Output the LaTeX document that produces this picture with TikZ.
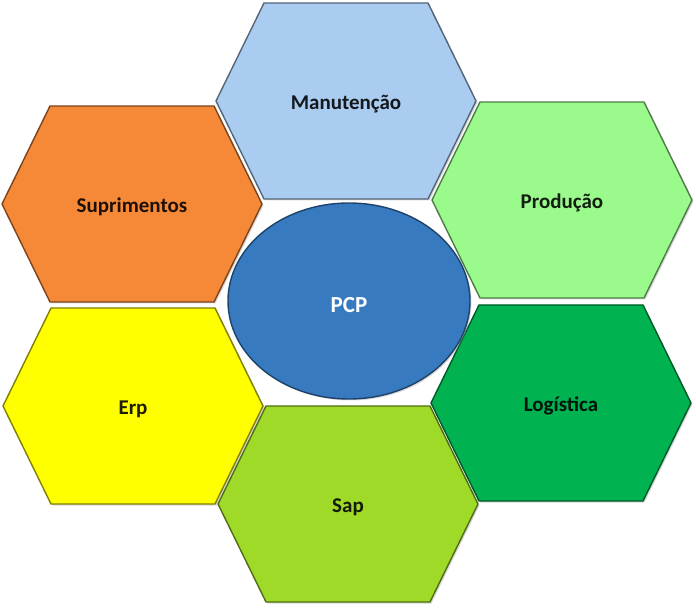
\documentclass[tikz,border=0pt]{standalone}
\usepackage{fontspec}
\setmainfont{Carlito}
\usetikzlibrary{shapes,positioning,shadows}

\definecolor{suprcor}{RGB}{246,137,56}
\definecolor{prodcor}{RGB}{155,250,140}
\definecolor{erpcor}{RGB}{255,255,0}
\definecolor{logcor}{RGB}{0,178,80}
\definecolor{manutcor}{RGB}{170,204,240}
\definecolor{sapcor}{RGB}{160,218,40}
\definecolor{pcpcor}{RGB}{55,122,192}

\begin{document}
\begin{tikzpicture}[x=1pt, y=-1pt]
        \tikzstyle{hexa} = [line width=1.4pt, line join=round, drop shadow={opacity=0.3, shadow xshift=1.5pt, shadow yshift=-1.5pt}]
        \tikzstyle{rotulo} = [font=\bfseries\fontsize{21}{25}\selectfont, yshift=-3pt]

        \useasboundingbox (0,0) rectangle (696,609);

        \foreach \nome/\cx/\cy/\cor/\texto in {supr/132/204/suprcor/Suprimentos, prod/562/200/prodcor/Produção, erp/133/406/erpcor/Erp, log/561/403/logcor/Logística, manut/346/101/manutcor/Manutenção, sap/348/504/sapcor/Sap}
        {
            \draw [hexa, fill=\cor, draw=\cor!50!black] (\cx,\cy) ++(-130,0) -- ++(48,-98) -- ++(164,0) -- ++(48,98) -- ++(-48,98) -- ++(-164,0) -- cycle;
            \node [rotulo, text=\cor!12!black] (\nome) at (\cx,\cy) {\texto};
        }

        \node [ellipse, draw=pcpcor!55!black, fill=pcpcor, line width=1.4pt, minimum width=242pt, minimum height=196pt, text=white, text height=24pt, text depth=0pt, font=\bfseries\fontsize{23}{27}\selectfont, drop shadow={opacity=0.3, shadow xshift=1.5pt, shadow yshift=-1.5pt}] (pcp) at (349,301) {PCP};
\end{tikzpicture}
\end{document}
